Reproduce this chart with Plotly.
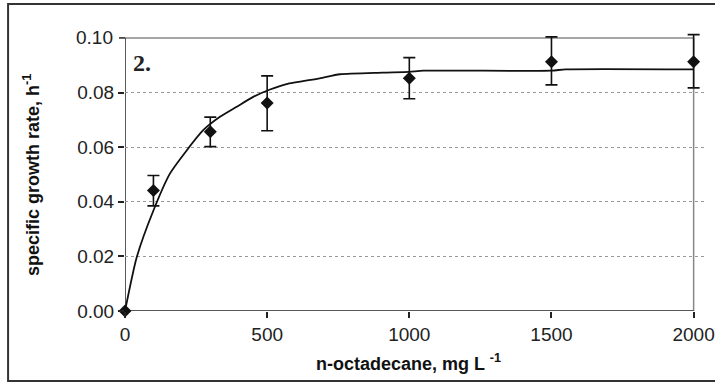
import plotly.graph_objects as go

# Measured data
conc = [0, 100, 300, 500, 1000, 1500, 2000]
rate = [0.0, 0.0441, 0.0656, 0.0762, 0.0852, 0.0913, 0.0913]
err_plus = [0.0, 0.0055, 0.0054, 0.0099, 0.0076, 0.0091, 0.0099]
err_minus = [0.0, 0.0056, 0.0054, 0.0102, 0.0075, 0.0085, 0.0096]

# Fitted model curve
fit_x = [0, 41, 100, 158, 217, 275, 334, 393, 451, 510, 568, 685, 756, 907, 1000, 1050, 1500, 1550, 2000]
fit_y = [0.0, 0.0196, 0.0368, 0.0503, 0.0588, 0.0662, 0.0711, 0.0748, 0.0784, 0.0811,
         0.0831, 0.0852, 0.0867, 0.0873, 0.0876, 0.0880, 0.0880, 0.0885, 0.0885]

x_ticks = [0, 500, 1000, 1500, 2000]
y_ticks = [0.0, 0.02, 0.04, 0.06, 0.08, 0.10]
x_max, y_max = 2000, 0.10

W, H = 715, 382
# pixel positions of x=0, x=2000, y=0.10, y=0
X0, X1, YT, YB = 125, 694, 38, 311
kx = (X1 - X0) / x_max
ky = (YB - YT) / y_max
# extend the data ranges slightly so error-bar caps are not clipped
xr = [0, 2040]
yr = [0, 0.104]
L = X0
R = X0 + xr[1] * kx
B = YB
T = YB - yr[1] * ky
pw, ph = R - L, B - T

def px(x):
    return (x - L) / pw

def py(y):
    return (B - y) / ph

fig = go.Figure()
fig.add_trace(go.Scatter(x=fit_x, y=fit_y, mode="lines", line_shape="spline",
                         line=dict(color="#111", width=1.8, smoothing=0.6), showlegend=False,
                         cliponaxis=False))
fig.add_trace(go.Scatter(
    x=conc, y=rate, mode="markers",
    marker=dict(symbol="diamond", size=10, color="#111"),
    error_y=dict(type="data", symmetric=False, array=err_plus, arrayminus=err_minus,
                 color="#111", thickness=1.6, width=6),
    showlegend=False, cliponaxis=False))

axis_common = dict(zeroline=False, showline=False,
                   ticks="outside", ticklen=6, tickcolor="#222", tickwidth=1.5,
                   tickfont=dict(size=19, color="#222"), automargin=False,
                   ticklabeloverflow="allow")

fig.update_layout(
    width=W, height=H,
    margin=dict(l=L, r=W - R, t=T, b=H - B),
    paper_bgcolor="white", plot_bgcolor="white",
    font=dict(family="Liberation Sans", color="#222"),
    xaxis=dict(range=xr, tickvals=x_ticks, ticktext=[str(v) for v in x_ticks],
               showgrid=False, **axis_common),
    yaxis=dict(range=yr, tickvals=y_ticks[:-1], ticktext=["%.2f" % v for v in y_ticks[:-1]],
               showgrid=True, gridcolor="#999", griddash="dot", gridwidth=1,
               **axis_common),
    shapes=[
        # plot-area frame: grey top/right, black left/bottom axes
        dict(type="line", xref="x", yref="y", x0=0, x1=x_max, y0=y_max, y1=y_max,
             line=dict(color="#888", width=1.5), layer="below"),
        dict(type="line", xref="x", yref="y", x0=x_max, x1=x_max, y0=0, y1=y_max,
             line=dict(color="#888", width=1.5), layer="below"),
        dict(type="line", xref="x", yref="y", x0=0, x1=0, y0=0, y1=y_max,
             line=dict(color="#222", width=1.5), layer="below"),
        dict(type="line", xref="x", yref="y", x0=0, x1=x_max, y0=0, y1=0,
             line=dict(color="#222", width=1.5), layer="below"),
        # outer frame
        dict(type="rect", xref="paper", yref="paper",
             x0=px(8), x1=px(717), y0=py(381), y1=py(4),
             line=dict(color="#333", width=2), layer="below"),
    ],
    annotations=[
        # top y tick (0.10) drawn here because the axis range extends past it
        dict(text="0.10", xref="paper", yref="y", x=px(X0 - 10), y=y_max,
             xanchor="right", yanchor="middle", showarrow=False,
             font=dict(family="Liberation Sans", size=19, color="#222")),
        dict(text="<b>2.</b>", xref="paper", yref="paper", x=px(131), y=py(48),
             xanchor="left", yanchor="top", showarrow=False,
             font=dict(family="Liberation Serif", size=24, color="#222")),
        dict(text="<b>n-octadecane, mg L <sup>-1</sup></b>", xref="paper", yref="paper",
             x=px(409), y=py(362), xanchor="center", yanchor="middle", showarrow=False,
             font=dict(family="Liberation Sans", size=18, color="#111")),
        dict(text="<b>specific growth rate, h<sup>-1</sup></b>", xref="paper", yref="paper",
             x=px(32), y=py(175), xanchor="center", yanchor="middle", showarrow=False,
             textangle=-90,
             font=dict(family="Liberation Sans", size=18, color="#111")),
    ],
)
# tick mark for 0.10
fig.add_shape(type="line", xref="paper", yref="y", x0=px(X0 - 6), x1=px(X0), y0=y_max, y1=y_max,
              line=dict(color="#222", width=1.5))

fig.write_html("out.html", config={"displayModeBar": False},
               post_script="document.body.style.margin='0';")
